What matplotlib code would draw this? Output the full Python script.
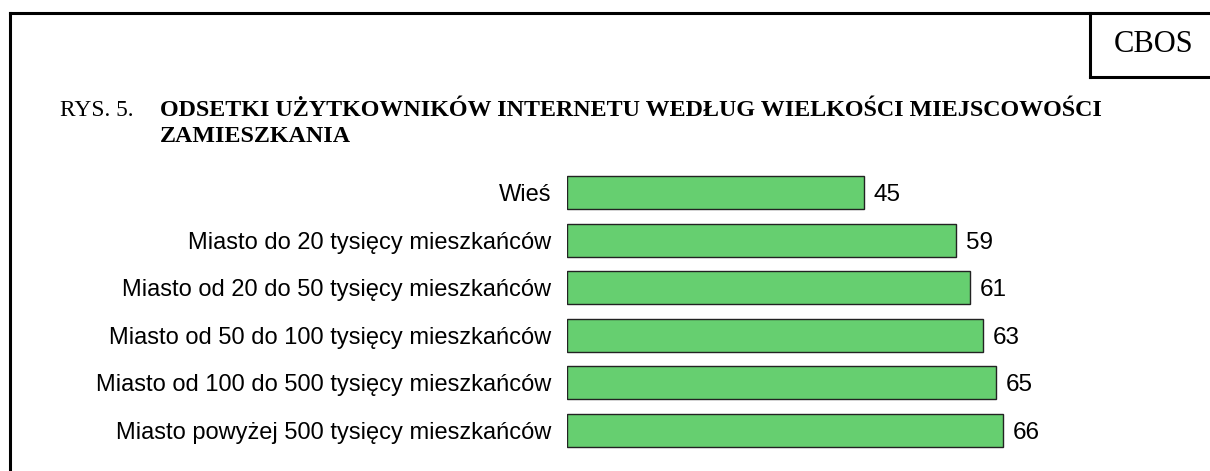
import matplotlib
matplotlib.use("Agg")
import matplotlib.pyplot as plt
from matplotlib.lines import Line2D

categories = [
    "Wieś",
    "Miasto do 20 tysięcy mieszkańców",
    "Miasto od 20 do 50 tysięcy mieszkańców",
    "Miasto od 50 do 100 tysięcy mieszkańców",
    "Miasto od 100 do 500 tysięcy mieszkańców",
    "Miasto powyżej 500 tysięcy mieszkańców",
]
values = [45, 59, 61, 63, 65, 66]

W, H = 1210, 471
fig = plt.figure(figsize=(W / 100, H / 100), dpi=100)
fig.patch.set_facecolor("white")

def px(x, y):
    return x / W, 1 - y / H

# Frame lines
for (x0, y0), (x1, y1) in [((10, 13), (1210, 13)), ((10, 13), (10, 471)),
                           ((1089.5, 13), (1089.5, 77)), ((1089.5, 77), (1210, 77))]:
    a, b = px(x0, y0)
    c, d = px(x1, y1)
    fig.add_artist(Line2D([a, c], [b, d], color="black", lw=2.2, transform=fig.transFigure,
                          solid_capstyle="projecting"))

fig.text(*px(1154, 52), "CBOS", family="Liberation Serif", fontsize=22, ha="center", va="baseline")
fig.text(*px(60, 116.5), "RYS. 5.", family="Liberation Serif", fontsize=16.8, ha="left", va="baseline")
fig.text(*px(160, 116.5), "ODSETKI UŻYTKOWNIKÓW INTERNETU WEDŁUG WIELKOŚCI MIEJSCOWOŚCI",
         family="Liberation Serif", fontsize=17.25, fontweight="bold", ha="left", va="baseline")
fig.text(*px(160, 142), "ZAMIESZKANIA",
         family="Liberation Serif", fontsize=17.25, fontweight="bold", ha="left", va="baseline")

# Axes: 0 at x=567, 6.6 px/unit; category spacing 47.6 px
x0 = 567
xmax = 90
ax_w = xmax * 6.6
sp = 47.6
top = 192.5 - sp / 2
ax = fig.add_axes([x0 / W, 1 - (top + 6 * sp) / H, ax_w / W, 6 * sp / H])
ypos = list(range(len(categories)))
ax.barh(ypos, values, height=33 / sp, color="#66CF70", edgecolor="#222222", linewidth=1.0)
ax.set_xlim(0, xmax)
ax.set_ylim(len(categories) - 0.5, -0.5)
for s in ax.spines.values():
    s.set_visible(False)
ax.set_xticks([])
ax.set_yticks(ypos)
ax.set_yticklabels(categories, family="Liberation Sans", fontsize=17)
ax.tick_params(axis="y", length=0, pad=11.5)
for y, v in zip(ypos, values):
    ax.annotate(str(v), (v, y), xytext=(7, 0), textcoords="offset points", ha="left",
                va="center_baseline", family="Liberation Sans", fontsize=17.5)
ax.patch.set_alpha(0)

fig.savefig("out.png", dpi=100)
